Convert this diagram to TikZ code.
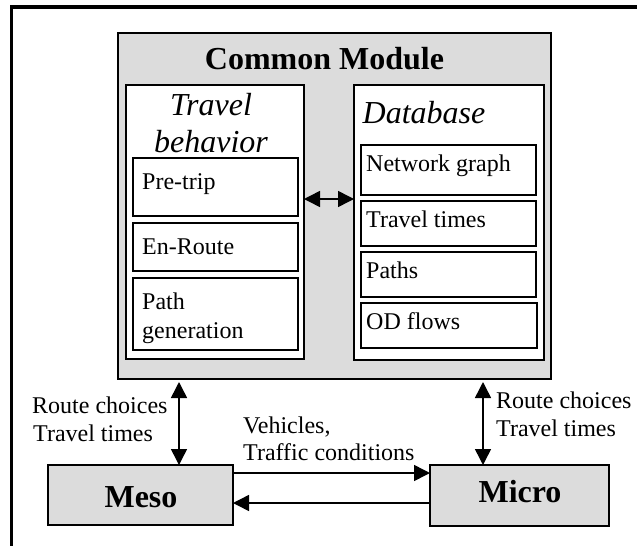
\documentclass[tikz,border=0pt]{standalone}
\usepackage{fontspec}
\setmainfont{Liberation Serif}
\usetikzlibrary{arrows.meta}
\definecolor{panelgray}{HTML}{DCDCDC}
\tikzset{
  x=1pt,y=-1pt,
  panel/.style={draw=black,line width=1.9pt,fill=panelgray},
  whitebox/.style={draw=black,line width=1.6pt,fill=white},
  lab/.style={inner sep=0pt,anchor=base west,font=\fontsize{24}{24}\selectfont},
  bigbold/.style={inner sep=0pt,anchor=base,font=\fontsize{32}{32}\selectfont\bfseries},
  head/.style={inner sep=0pt,anchor=base,font=\fontsize{32}{32}\selectfont\itshape},
  dbl/.style={line width=1.5pt,{Triangle[length=16pt,width=16pt]}-{Triangle[length=16pt,width=16pt]}},
  sgl/.style={line width=1.5pt,-{Triangle[length=16pt,width=16pt]}},
}
\newcommand{\boxat}[6]{\node[#1,inner sep=0pt,outer sep=0pt,minimum width=#4pt-#2pt,minimum height=#5pt-#3pt,anchor=north west] (#6) at (#2,#3) {};}
\begin{document}
\begin{tikzpicture}
\useasboundingbox (0,0) rectangle (637,546);
\fill[white] (0,0) rectangle (637,546);
\draw[line width=3.2pt] (11.5,546) -- (11.5,7) -- (637,7);
\boxat{panel}{118}{33}{551}{379}{common}
\boxat{whitebox}{126}{85}{304}{359}{travel}
\boxat{whitebox}{133}{158}{298}{216}{pretrip}
\boxat{whitebox}{133}{223}{298}{271}{enroute}
\boxat{whitebox}{133}{278}{298}{350}{pathgen}
\boxat{whitebox}{354}{85}{544}{360}{database}
\boxat{whitebox}{361}{145}{536}{195}{network}
\boxat{whitebox}{361}{201}{536}{246}{ttimes}
\boxat{whitebox}{361}{252}{536}{297}{paths}
\boxat{whitebox}{361}{303}{537}{348}{odflows}
\boxat{panel}{48}{465}{233}{525}{meso}
\boxat{panel}{430}{465}{609}{526}{micro}
\node[bigbold] (tcommon) at (324.5,69) {Common Module};
\node[head] (ttravel) at (211,115) {Travel};
\node[head] (tbehav) at (211,152) {behavior};
\node[head] (tdb) at (424,123) {Database};
\node[lab] (t1) at (142,189) {Pre-trip};
\node[lab] (t2) at (142,254) {En-Route};
\node[lab] (t3) at (142,309) {Path};
\node[lab] (t4) at (142,338) {generation};
\node[lab] (t5) at (366,171) {Network graph};
\node[lab] (t6) at (366,227) {Travel times};
\node[lab] (t7) at (366,278) {Paths};
\node[lab] (t8) at (366,329) {OD flows};
\node[lab] (t9) at (32,413) {Route choices};
\node[lab] (t10) at (33,441) {Travel times};
\node[lab] (t11) at (243,433) {Vehicles,};
\node[lab] (t12) at (243,460) {Traffic conditions};
\node[lab] (t13) at (496,408) {Route choices};
\node[lab] (t14) at (496,436) {Travel times};
\node[bigbold] (tmeso) at (141,507) {Meso};
\node[bigbold] (tmicro) at (520,502) {Micro};
\draw[dbl] (travel.east |- 0,199) -- (database.west |- 0,199);
\draw[dbl] (meso.north -| 179,0) -- (179,382);
\draw[dbl] (micro.north -| 483,0) -- (483,382);
\draw[sgl] (meso.east |- 0,473) -- (micro.west |- 0,473);
\draw[sgl] (micro.west |- 0,503) -- (meso.east |- 0,503);
\end{tikzpicture}
\end{document}
